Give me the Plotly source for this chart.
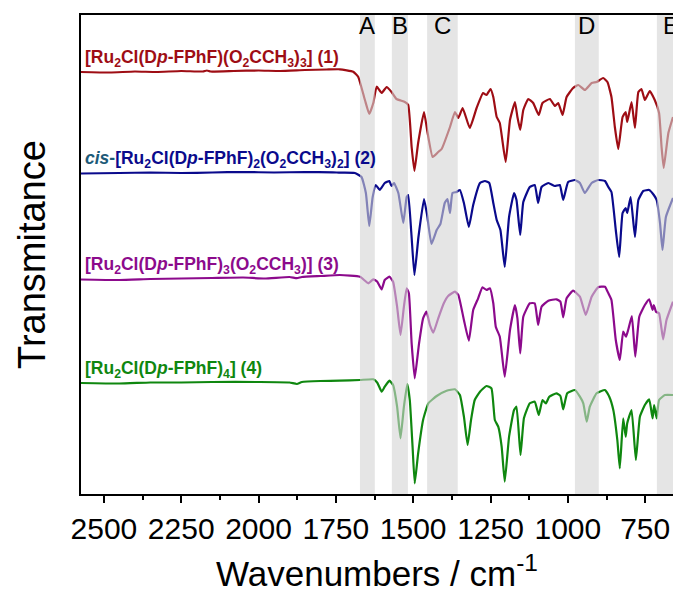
import plotly.graph_objects as go

# ---------------- data ----------------
# FT-IR spectra, transmittance (arbitrary units) relative to each trace's own baseline
wn_1 = [2574, 2480, 2400, 2330, 2250, 2180, 2167, 2155, 2080, 2000, 1930, 1850, 1780, 1737,
        1694, 1678, 1656, 1642, 1629, 1618, 1602, 1586, 1570, 1554, 1527, 1516, 1505, 1496,
        1484, 1465, 1455, 1437, 1419, 1408, 1381, 1365, 1354, 1340, 1317, 1295, 1274, 1263,
        1250, 1241, 1230, 1220, 1201, 1187, 1171, 1163, 1154, 1144, 1128, 1112, 1094, 1082,
        1058, 1042, 1031, 1017, 1004, 983, 966, 945, 923, 907, 886, 872, 859, 848, 837, 823,
        813, 808, 794, 783, 772, 762, 751, 735, 719, 705, 697, 690, 675, 660]
t_1 = [0, -0.5, 0.5, 0, 1, 0.5, 1.5, 0.5, 1, 1.5, 1, 2, 2.5, 2.7,
       0.3, -4.7, -28, -42, -31, -14.7, -21, -15, -20, -27, -30, -33, -75, -99,
       -71, -40, -58, -85, -80, -77, -55, -40, -46, -36, -56, -36, -21, -23,
       -17, -25, -45, -51, -90, -48, -30, -45, -58, -38, -27, -31, -43, -31,
       -27, -34, -31, -43, -25, -16, -13, -18, -11, -10, -6, -10, -25, -55, -77, -45,
       -40, -50, -30, -56, -20, -17, -28, -19, -28, -41, -75, -96, -61, -45]

wn_2 = [2574, 2450, 2350, 2250, 2150, 2050, 1950, 1850, 1760, 1737,
        1689, 1667, 1653, 1642, 1631, 1621, 1608, 1592, 1577, 1570, 1562, 1548, 1532, 1521,
        1516, 1506, 1496, 1483, 1465, 1455, 1441, 1424, 1412, 1398, 1389, 1381, 1373, 1360,
        1349, 1336, 1320, 1306, 1284, 1268, 1254, 1241, 1230, 1218, 1204, 1190, 1174, 1166,
        1154, 1144, 1123, 1107, 1096, 1085, 1063, 1042, 1026, 1015, 999, 977, 961, 945, 923,
        902, 880, 869, 859, 845, 834, 823, 813, 808, 797, 783, 772, 756, 737, 722, 713, 702,
        694, 683, 660]
t_2 = [-0.5, 0, 0.5, 0, 0.5, 1, 0.5, 1, 0.7, 0.3,
       0, -4, -20, -53, -24, -12, -17, -10, -8, -13, -10, -20, -50, -24,
       -22, -60, -102, -64, -26, -42, -71, -57, -51, -30, -26, -40, -20, -19,
       -17, -30, -54, -32, -10, -8, -10, -30, -47, -57, -94, -44, -20, -27,
       -62, -29, -14, -12, -30, -14, -10, -13, -12, -27, -9, -7, -10, -20, -10,
       -7, -8, -14, -19, -57, -84, -40, -35, -40, -24, -64, -27, -18, -17, -22, -27, -50,
       -77, -44, -25]

wn_3 = [2574, 2450, 2350, 2250, 2150, 2050, 1980, 1900, 1876, 1860, 1800, 1737,
        1672, 1645, 1629, 1616, 1602, 1592, 1577, 1565, 1552, 1541, 1530, 1521, 1514, 1505,
        1495, 1481, 1468, 1457, 1446, 1435, 1419, 1401, 1387, 1365, 1354, 1336, 1320, 1306,
        1290, 1276, 1263, 1252, 1241, 1233, 1220, 1204, 1187, 1171, 1163, 1154, 1144, 1123,
        1107, 1096, 1085, 1063, 1037, 1024, 1015, 1004, 983, 961, 942, 923, 902, 880, 869,
        859, 845, 832, 821, 812, 805, 793, 782, 769, 751, 737, 726, 722, 715, 705, 692, 681,
        660]
t_3 = [-0.5, -1, 0, 0.5, 1, 1.5, 0.5, 2, 0.8, 2, 3, 4,
       2.3, -4.3, -0.3, -2.7, -10.3, -1, 2.3, -2.7, -27.7, -56, -27.7, -9.3, -14.3, -64.3,
       -99.3, -64.3, -39.3, -32.7, -46, -53.7, -39.3, -24.3, -17, -12.7, -16, -41, -61.7, -31,
       -19.3, -8.3, -11, -9.3, -24.3, -47.7, -57.7, -97.7, -51, -26, -39.3, -74.3, -37.7, -24.3,
       -24.3, -46, -27.7, -21.7, -20.3, -22.7, -38.3, -19.3, -11.7, -17.7, -36, -17.7, -8.3, -7.7, -14.3,
       -21, -61, -81, -52.7, -57.7, -51, -37, -77.7, -37.7, -26, -20.3, -31, -26, -32.7, -34.3, -60.3, -41,
       -22.7]

wn_4 = [2574, 2450, 2350, 2250, 2150, 2000, 1900, 1876, 1860, 1800, 1737,
        1672, 1629, 1616, 1602, 1592, 1577, 1565, 1552, 1541, 1530, 1519, 1511, 1502, 1495,
        1484, 1468, 1451, 1424, 1392, 1365, 1349, 1336, 1324, 1313, 1301, 1284, 1263, 1247,
        1236, 1225, 1214, 1204, 1190, 1174, 1166, 1153, 1142, 1123, 1107, 1094, 1082, 1071,
        1060, 1037, 1024, 1015, 1002, 977, 961, 950, 939, 929, 907, 880, 866, 853, 840, 832,
        821, 813, 808, 794, 780, 767, 751, 737, 726, 721, 713, 705, 686, 660]
t_4 = [0, -0.5, 0.5, 0.5, 1, 1, 0.5, -1, 1, 2, 2.3,
       3, 3.7, 0.3, -8.7, -3.7, 2.3, -2, -23.7, -55.3, -23.7, -1, -17, -63.7, -100.3,
       -70.3, -37, -20.3, -13, -7.7, -6.3, -12, -33.7, -62, -37, -17, -8.7, -3, -5.3,
       -37, -43.7, -63.7, -98.7, -53.7, -27, -23.7, -72, -35.3, -20.3, -18.7, -32, -17, -20.3,
       -13.7, -10.3, -13, -26.3, -10.3, -7, -13.7, -20.3, -38.7, -23.7, -10.3, -7, -13.7, -27, -57, -85.3,
       -35.3, -53.7, -40.3, -27, -77, -33.7, -22, -16.3, -35.3, -22, -35.3, -17, -12, -12]

names = ["[Ru<sub>2</sub>Cl(D<i>p</i>-FPhF)(O<sub>2</sub>CCH<sub>3</sub>)<sub>3</sub>] (1)",
         "<span style='color:#1d5a78'><i>cis</i>-</span>[Ru<sub>2</sub>Cl(D<i>p</i>-FPhF)<sub>2</sub>(O<sub>2</sub>CCH<sub>3</sub>)<sub>2</sub>] (2)",
         "[Ru<sub>2</sub>Cl(D<i>p</i>-FPhF)<sub>3</sub>(O<sub>2</sub>CCH<sub>3</sub>)] (3)",
         "[Ru<sub>2</sub>Cl(D<i>p</i>-FPhF)<sub>4</sub>] (4)"]
offsets = [422, 321, 215, 111]
colors = ["#9e0d14", "#0a0a8c", "#8c0a8c", "#0f870f"]

# highlighted spectral regions (cm-1)
band_labels = ["A", "B", "C", "D", "E"]
band_hi = [1672, 1569, 1455, 977, 712]
band_lo = [1624, 1517, 1356, 900, 600]

FONT = "Arial, 'Liberation Sans', sans-serif"

fig = go.Figure()
for wn, t, off, col in zip([wn_1, wn_2, wn_3, wn_4], [t_1, t_2, t_3, t_4], offsets, colors):
    fig.add_trace(go.Scatter(x=wn, y=[v + off for v in t], mode="lines",
                             line=dict(color=col, width=2.2, shape="spline", smoothing=0.4),
                             showlegend=False, hoverinfo="skip"))

for lab, off, col in zip(names, offsets, colors):
    fig.add_annotation(x=0.004, xref="paper", y=off + 14, yref="y", xanchor="left",
                       yanchor="middle", text="<b>" + lab + "</b>", showarrow=False,
                       font=dict(family=FONT, size=17.5, color=col))

for lab, hi, lo in zip(band_labels, band_hi, band_lo):
    fig.add_shape(type="rect", xref="x", yref="paper", x0=hi, x1=lo, y0=0, y1=1,
                  fillcolor="rgb(212,212,212)", opacity=0.6, line_width=0, layer="above")
    fig.add_annotation(x=(hi + max(lo, 620)) / 2, xref="x", y=1.0, yref="paper",
                       yanchor="top", yshift=5, text=lab, showarrow=False,
                       font=dict(family=FONT, size=24, color="black"))

fig.update_layout(
    width=673, height=593,
    margin=dict(l=81, r=0, t=15, b=99),
    paper_bgcolor="white", plot_bgcolor="white",
    font=dict(family=FONT, color="black"),
    xaxis=dict(range=[2574, 660], showgrid=False, zeroline=False,
               showline=True, linecolor="black", linewidth=1.5, mirror=True,
               ticks="outside", ticklen=7, tickwidth=1.5, tickcolor="black",
               tick0=2500, dtick=250, tickfont=dict(size=30, family=FONT),
               minor=dict(ticks="outside", ticklen=4, tickwidth=1.5, dtick=125,
                          tick0=2500, tickcolor="black"),
               title=dict(text="Wavenumbers / cm<sup>-1</sup>", font=dict(size=35, family=FONT),
                          standoff=18)),
    yaxis=dict(range=[0, 479], showgrid=False, zeroline=False, showticklabels=False,
               showline=True, linecolor="black", linewidth=1.5, ticks="",
               title=dict(text="Transmitance", font=dict(size=38, family=FONT), standoff=22)),
)

fig.write_html("out.html")
